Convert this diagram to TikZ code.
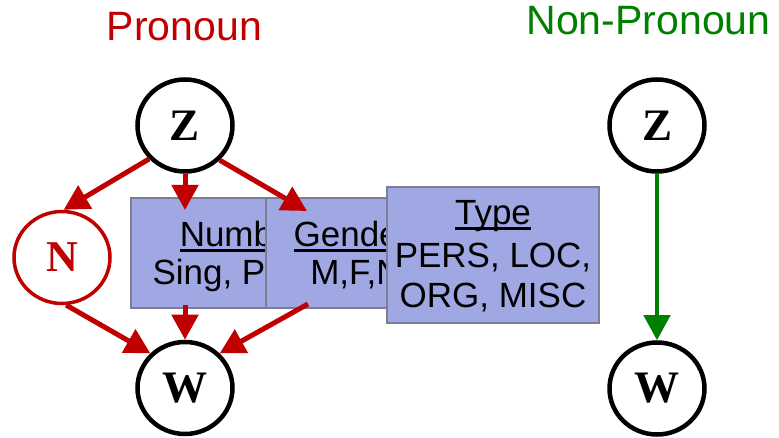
\documentclass[tikz,border=0pt]{standalone}
\usepackage{fontspec}
\setmainfont{Liberation Sans}
\newfontfamily\varfont{Liberation Serif}
\usetikzlibrary{arrows.meta,shapes.geometric}
\definecolor{pred}{RGB}{192,0,0}
\definecolor{pgreen}{RGB}{0,128,0}
\definecolor{boxfill}{RGB}{160,168,228}
\definecolor{boxline}{RGB}{125,125,150}
% underline that sits just under the baseline
\newcommand\ulbar[1]{\setbox0\hbox{#1}\rlap{\rule[-5pt]{\wd0}{3pt}}\box0}

\begin{document}
\begin{tikzpicture}[x=1pt,y=-1pt,
  var/.style={draw=black, line width=4.5pt, ellipse, minimum width=95pt,
    minimum height=92pt, inner sep=0pt,
    font=\fontsize{45}{45}\selectfont\varfont\bfseries},
  latent/.style={draw=pred, text=pred, line width=3.5pt, ellipse,
    minimum width=96pt, minimum height=92pt, inner sep=0pt,
    font=\fontsize{44}{44}\selectfont\varfont\bfseries},
  attr/.style={draw=boxline, line width=2pt, fill=boxfill, inner sep=0pt},
  attrtext/.style={anchor=base, inner sep=0pt, font=\fontsize{35}{35}\selectfont},
  title/.style={anchor=base, inner sep=0pt, font=\fontsize{41}{41}\selectfont},
  redarrow/.style={draw=pred, line width=5pt, -{Triangle[length=25pt,width=26pt]}},
  greenarrow/.style={draw=pgreen, line width=4.5pt, -{Triangle[length=25pt,width=26pt]}}]
\useasboundingbox (0,0) rectangle (779,438);

% titles
\node[title, text=pred] (tPro) at (184.5,41) {Pronoun};
\node[title, text=pgreen] (tNon) at (648.5,35) {Non-Pronoun};

% pronoun model
\node[var] (Z) at (185,125.5) {Z};
\node[latent] (N) at (62,257.5) {N};
\node[var] (W) at (185,388) {W};

% attribute boxes, each drawn over the previous one
\node[attr, minimum width=222pt, minimum height=110pt] (num) at (242,253) {};
\node[attrtext] (numA) at (242,247) {\ulbar{Number}};
\node[attrtext] (numB) at (242,285) {Sing, Plural};

\node[attr, minimum width=174pt, minimum height=110pt] (gen) at (353,253) {};
\node[attrtext] (genA) at (352,247) {\ulbar{Gender}};
\node[attrtext] (genB) at (356,285) {M,F,N};

\node[attr, minimum width=212pt, minimum height=136pt] (typ) at (493,255) {};
\node[attrtext] (typA) at (493,225) {\ulbar{Type}};
\node[attrtext] (typB) at (493,268) {PERS, LOC,};
\node[attrtext] (typC) at (493,308) {ORG, MISC};

% connector ends inside the boxes
\coordinate (numIn) at (185,210);
\coordinate (numOut) at (185,305);
\coordinate (genIn) at (307,211);
\coordinate (genOut) at (308,304);

\draw[redarrow] (Z.223) -- (N.88);
\draw[redarrow] (Z.south) -- (numIn);
\draw[redarrow] (Z.315) -- (genIn);
\draw[redarrow] (N.275) -- (W.135);
\draw[redarrow] (numOut) -- (W.north);
\draw[redarrow] (genOut) -- (W.45);

% non-pronoun model
\node[var] (Z2) at (657,125.5) {Z};
\node[var] (W2) at (657,388.5) {W};
\draw[greenarrow] (Z2.south) -- (W2.north);
\end{tikzpicture}
\end{document}
